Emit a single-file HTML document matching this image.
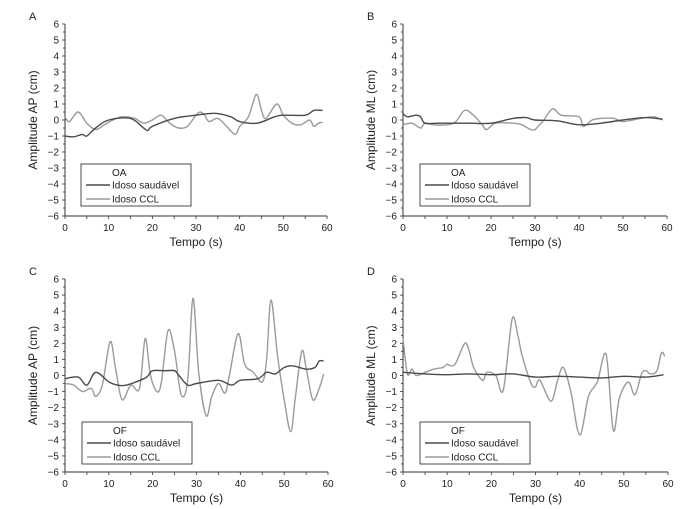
<!DOCTYPE html>
<html><head><meta charset="utf-8"><style>
body{margin:0;background:#fff}
svg{display:block;font-family:"Liberation Sans",sans-serif}
</style></head><body>
<svg id="fig" width="700" height="509" viewBox="0 0 700 509"></svg>
<script>
const yTicks=[-6,-5,-4,-3,-2,-1,0,1,2,3,4,5,6];
const xTicks=[0,10,20,30,40,50,60];
const aHealthyT=[0,2,4,5,7,10,15,18,19,20,25,30,33,35,38,40,44,48,50,55,57,59];
const aHealthyV=[-1,-1.05,-0.9,-1,-0.5,0,0.1,-0.5,-0.65,-0.4,0.1,0.3,0.4,0.4,0.2,-0.1,-0.2,0.2,0.3,0.3,0.6,0.6];
const aCclT=[0,1,3,5,7,9,11,13,16,18,20,22,24,26,28,30,31,32,33,35,37,39,40,42,43.8,45,46,48.5,50,52,54,56,57,58,59];
const aCclV=[0.2,-0.1,0.5,-0.2,-0.6,-0.3,0,0.2,0.1,-0.2,0,0.3,-0.2,-0.5,-0.4,0.3,0.5,0.3,-0.1,0.1,-0.4,-0.9,-0.4,0.2,1.6,0.6,0.1,1.0,0.3,-0.2,-0.3,0,-0.4,-0.2,-0.15];
const bHealthyT=[0,1,3,4,5,8,15,20,25,28,30,35,40,45,50,55,59];
const bHealthyV=[0.4,0.2,0.3,0.2,-0.2,-0.2,-0.2,-0.2,0.1,0.15,0,-0.05,-0.3,-0.2,0,0.15,0.05];
const bCclT=[0,2,4,5,7,10,12,14,16,18,19,21,25,27,29,30,31,32,34,36,40,41,43,45,48,50,54,57,59];
const bCclV=[-0.3,-0.2,-0.5,-0.2,-0.3,-0.3,-0.1,0.6,0.3,-0.3,-0.6,-0.2,-0.2,-0.3,-0.6,-0.6,-0.3,0,0.7,0.3,0.2,-0.4,0,0.1,0.1,-0.1,0.1,0.2,0];
const cHealthyT=[0,3,5,7,10,12,14,18,19,20,23,25,26,28,30,35,38,40,44,46,48,50,52,55,57,58,59];
const cHealthyV=[-0.2,-0.1,-0.6,0.2,-0.4,-0.6,-0.6,-0.2,0,0.3,0.3,0.3,0,-0.6,-0.5,-0.3,-0.6,-0.3,-0.2,0.2,0.1,0.5,0.6,0.4,0.5,0.9,0.9];
const cCclT=[0,2,4,6,7,8.5,10.3,11.5,13,15,17,18.3,19.5,21,22,23.5,25,26.5,28,29.2,30.5,32.2,33.5,35,36.5,37.5,39.5,41,43,45,46,47,48.5,50,51.5,52.5,54,55,56.5,58,59];
const cCclV=[-0.5,-0.6,-1,-0.8,-1.3,-0.6,2.1,0.5,-1.5,-0.6,-0.8,2.3,0,-1.0,-0.4,2.8,1.5,-1.2,-0.3,4.8,0.2,-2.5,-1.3,-0.5,-1.1,0,2.6,0.7,0.2,-0.4,1.0,4.7,1.2,-1.5,-3.5,-1.5,1.5,0.5,-1.5,-0.8,0.1];
const dHealthyT=[0,5,10,15,20,25,30,35,40,45,50,55,59];
const dHealthyV=[0.2,0.1,0.05,0.1,0.05,0.1,-0.1,-0.05,-0.1,-0.15,-0.05,-0.1,0.05];
const dCclT=[0,1,2,3,5,7,9,10,11,12,14,15,16,18,19,21,22.7,24.7,26,27,29,30,31,33.5,35,36.3,38,40,42,44,46,47.6,49,51,52.5,54,55,56,57.5,58.5,59.3];
const dCclV=[2.3,0.1,0.4,0,0.2,0.4,0.5,0.7,0.6,0.8,2.0,1.5,0.5,-0.3,0.2,0,-0.9,3.5,2.5,1.2,-0.5,-0.7,-0.3,-1.6,-0.3,0.5,-1.0,-3.7,-1.3,-0.4,1.3,-3.4,-1.4,-0.4,-1.2,0.1,0.3,0.1,0.3,1.4,1.2];

const NS='http://www.w3.org/2000/svg';
const svg=document.getElementById('fig');
function mk(tag,attrs,parent,text){const e=document.createElementNS(NS,tag);for(const k in attrs)e.setAttribute(k,attrs[k]);if(text!=null)e.textContent=text;parent.appendChild(e);return e;}

const panels=[
 {id:'a',letter:'A',x0:65,x1:327,y0:216,y1:24,ytitle:'Amplitude AP (cm)',cond:'OA',h:[aHealthyT,aHealthyV],c:[aCclT,aCclV],lg:[81,164]},
 {id:'b',letter:'B',x0:403,x1:667,y0:216,y1:24,ytitle:'Amplitude ML (cm)',cond:'OA',h:[bHealthyT,bHealthyV],c:[bCclT,bCclV],lg:[420,164]},
 {id:'c',letter:'C',x0:65,x1:328,y0:472,y1:279,ytitle:'Amplitude AP (cm)',cond:'OF',h:[cHealthyT,cHealthyV],c:[cCclT,cCclV],lg:[82,422]},
 {id:'d',letter:'D',x0:403,x1:668,y0:472,y1:279,ytitle:'Amplitude ML (cm)',cond:'OF',h:[dHealthyT,dHealthyV],c:[dCclT,dCclV],lg:[420,422]}
];

function smooth(pts){
 let d='M'+pts[0][0].toFixed(1)+' '+pts[0][1].toFixed(1);
 for(let i=0;i<pts.length-1;i++){
  const p0=pts[Math.max(0,i-1)],p1=pts[i],p2=pts[i+1],p3=pts[Math.min(pts.length-1,i+2)];
  const c1=[p1[0]+(p2[0]-p0[0])/6,p1[1]+(p2[1]-p0[1])/6];
  const c2=[p2[0]-(p3[0]-p1[0])/6,p2[1]-(p3[1]-p1[1])/6];
  d+='C'+c1[0].toFixed(1)+' '+c1[1].toFixed(1)+' '+c2[0].toFixed(1)+' '+c2[1].toFixed(1)+' '+p2[0].toFixed(1)+' '+p2[1].toFixed(1);
 }
 return d;
}

panels.forEach(p=>{
 const g=mk('g',{},svg);
 
 
 const sx=t=>p.x0+(t/60)*(p.x1-p.x0);
 const sy=v=>p.y0+((v+6)/12)*(p.y1-p.y0);
 const lab=mk('text',{x:p.x0-36,y:p.y1-4,'font-size':11,fill:'#222'},g,p.letter);
 
 
 mk('line',{x1:p.x0,y1:p.y0,x2:p.x0,y2:p.y1,stroke:'#333','stroke-width':1},g);
 mk('line',{x1:p.x0,y1:p.y0,x2:p.x1,y2:p.y0,stroke:'#333','stroke-width':1},g);
 for(let v=-6;v<=6;v+=0.5){const y=sy(v);mk('line',{x1:p.x0-(v%1===0?3:2),y1:y,x2:p.x0,y2:y,stroke:'#333','stroke-width':0.8},g);}
 yTicks.forEach(v=>{const t=mk('text',{x:p.x0-6,y:sy(v)+3.5,'font-size':10,'text-anchor':'end',fill:'#222'},g,v<0?'\u2212'+(-v):String(v));});
 for(let t=0;t<=60;t+=5){const x=sx(t);mk('line',{x1:x,y1:p.y0,x2:x,y2:p.y0+3,stroke:'#333','stroke-width':0.8},g);}
 xTicks.forEach(v=>{const t=mk('text',{x:sx(v),y:p.y0+15,'font-size':10,'text-anchor':'middle',fill:'#222'},g,String(v));});
 const xt=mk('text',{x:(p.x0+p.x1)/2,y:p.y0+30,'font-size':12,'text-anchor':'middle',fill:'#222'},g,'Tempo (s)');
 
 const cy=(p.y0+p.y1)/2, tx=p.x0-28;
 const yt=mk('text',{x:tx,y:cy,'font-size':12,'text-anchor':'middle',fill:'#222',transform:'rotate(-90 '+tx+' '+cy+')'},g,p.ytitle);
 
 const path=(T,V)=>smooth(T.map((t,i)=>[sx(t),sy(V[i])]));
 const lc=mk('path',{d:path(p.c[0],p.c[1]),fill:'none',stroke:'#9a9a9a','stroke-width':1.4,'stroke-linejoin':'round'},g);
 
 const lh=mk('path',{d:path(p.h[0],p.h[1]),fill:'none',stroke:'#4a4a4a','stroke-width':1.4,'stroke-linejoin':'round'},g);
 
 const [lx,ly]=p.lg;
 const lg=mk('g',{},g);
 
 mk('rect',{x:lx,y:ly,width:110,height:42,fill:'#fff',stroke:'#222','stroke-width':0.8},lg);
 mk('text',{x:lx+31,y:ly+12,'font-size':10,fill:'#222'},lg,p.cond);
 mk('line',{x1:lx+5,y1:ly+21,x2:lx+29,y2:ly+21,stroke:'#4a4a4a','stroke-width':1.4},lg);
 mk('text',{x:lx+31,y:ly+24.5,'font-size':10,fill:'#222'},lg,'Idoso saudável');
 mk('line',{x1:lx+5,y1:ly+35,x2:lx+29,y2:ly+35,stroke:'#9a9a9a','stroke-width':1.4},lg);
 mk('text',{x:lx+31,y:ly+38.5,'font-size':10,fill:'#222'},lg,'Idoso CCL');
});
</script>
</body></html>
